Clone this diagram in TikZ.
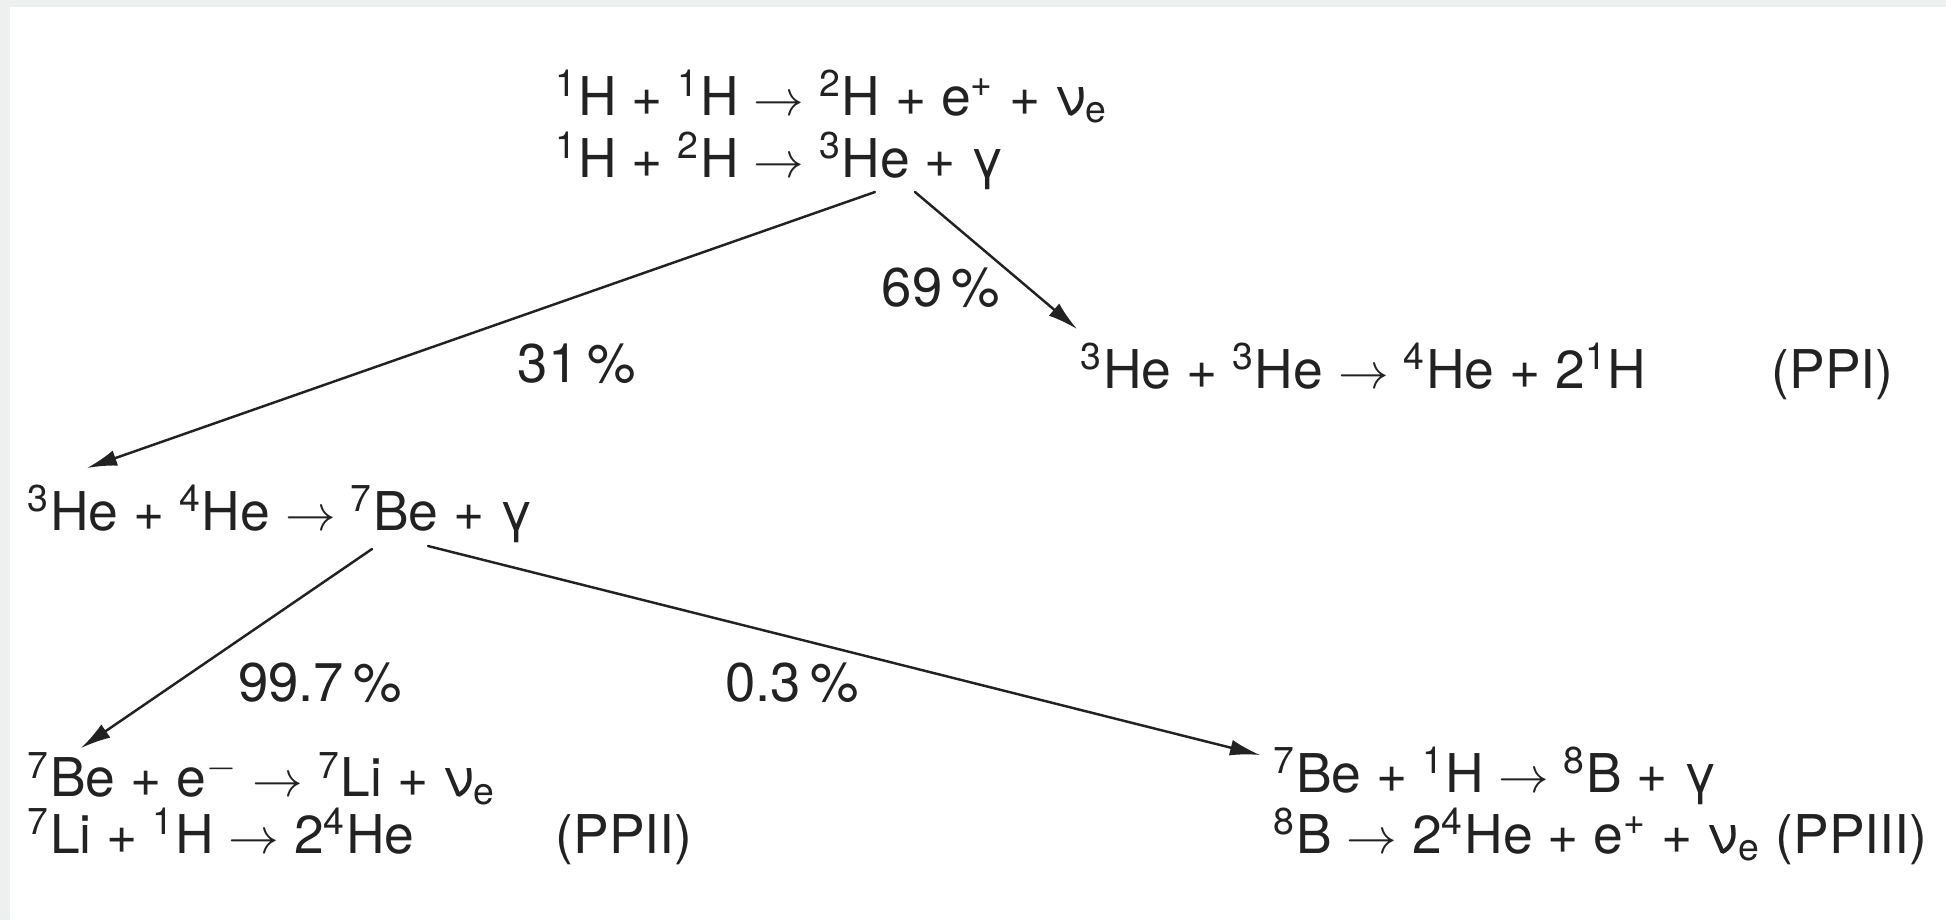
\documentclass[tikz,border=0pt]{standalone}
\usepackage{fontspec}
\setmainfont{TeX Gyre Heros}
\usetikzlibrary{arrows.meta}
\newcommand{\nuc}[2]{\textsuperscript{#1}#2}
\newcommand{\ra}{$\rightarrow$}
\newcommand{\nue}{ν\textsubscript{e}}
\definecolor{edge}{HTML}{EEF0EF}
\definecolor{ink}{HTML}{222222}
\begin{document}
\begin{tikzpicture}[line join=round, line cap=round, >={Latex[length=3mm,width=1.6mm]}]
			\tikzset{every node/.style={font=\fontsize{15.2}{18}\selectfont, text=ink, inner sep=0pt, anchor=base west},
				upper/.style={text depth=0pt},
				pair/.style={align=left, font=\fontsize{15.2}{15.05}\selectfont},
				pct/.style={anchor=center, font=\fontsize{15.5}{18}\selectfont},
				flow/.style={->, draw=ink, line width=0.7pt}}
			% frame
			\fill[edge] (0,0) rectangle (19.46,-9.2);
			\fill[white] (0.1,-0.07) rectangle (19.46,-9.2);
			% reactions
			\node[upper] (pp1) at (5.55,-1.15) {\nuc{1}{H} + \nuc{1}{H} \ra{} \nuc{2}{H} + e\textsuperscript{+} + \nue};
			\node (pp2) at (5.55,-1.77) {\nuc{1}{H} + \nuc{2}{H} \ra{} \nuc{3}{He} + γ};
			\node (ppi) at (10.80,-3.88) {\nuc{3}{He} + \nuc{3}{He} \ra{} \nuc{4}{He} + 2\nuc{1}{H}};
			\node (ppilab) at (17.71,-3.88) {(PPI)};
			\node (bes) at (0.27,-5.30) {\nuc{3}{He} + \nuc{4}{He} \ra{} \nuc{7}{Be} + γ};
			\node[pair] (ppii) at (0.27,-8.53) {\nuc{7}{Be} + e\textsuperscript{$-$} \ra{} \nuc{7}{Li} + \nue\\
				\nuc{7}{Li} + \nuc{1}{H} \ra{} 2\nuc{4}{He}};
			\node (ppiilab) at (5.55,-8.53) {(PPII)};
			\node[pair] (ppiii) at (12.73,-8.53) {\nuc{7}{Be} + \nuc{1}{H} \ra{} \nuc{8}{B} + γ\\
				\nuc{8}{B} \ra{} 2\nuc{4}{He} + e\textsuperscript{+} + \nue{} (PPIII)};
			% branches
			\draw[flow] ([xshift=3.2cm,yshift=-0.15cm]pp2.base west) -- ([xshift=0.6cm,yshift=0.62cm]bes.base west);
			\draw[flow] ([xshift=3.6cm,yshift=-0.15cm]pp2.base west) -- ([xshift=-0.03cm,yshift=0.59cm]ppi.base west);
			\draw[flow] ([xshift=3.45cm,yshift=-0.19cm]bes.base west) -- ([xshift=0.54cm,yshift=1.05cm]ppii.base west);
			\draw[flow] ([xshift=4.01cm,yshift=-0.16cm]bes.base west) -- ([xshift=-0.13cm,yshift=0.98cm]ppiii.base west);
			\node[pct] (p69) at (9.41,-2.88) {69\,\%};
			\node[pct] (p31) at (5.77,-3.64) {31\,\%};
			\node[pct] (p997) at (3.20,-6.83) {99.7\,\%};
			\node[pct] (p03) at (7.92,-6.83) {0.3\,\%};
		\end{tikzpicture}
\end{document}
